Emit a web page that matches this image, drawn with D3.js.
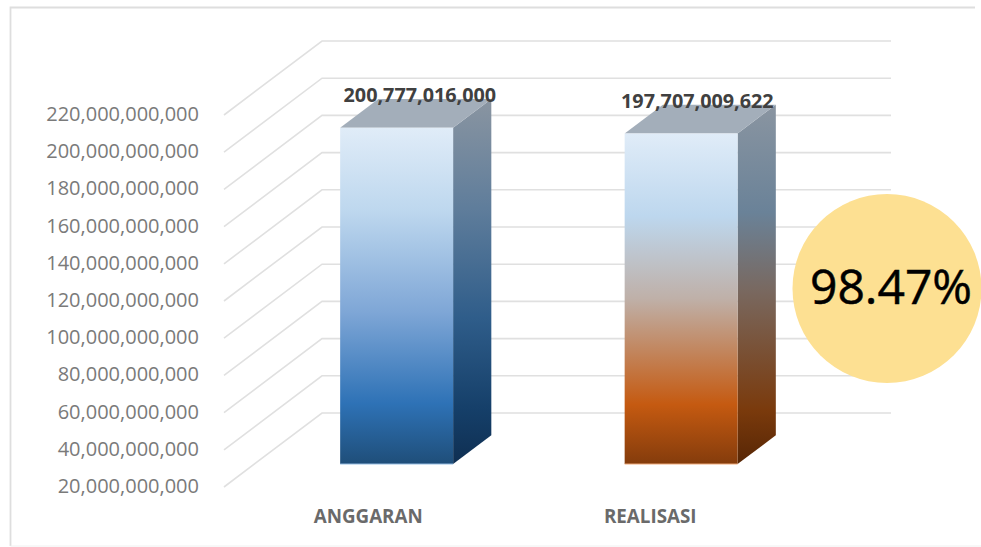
<!DOCTYPE html>
<html>
<head>
<meta charset="utf-8">
<style>
html,body{margin:0;padding:0;background:#fff}
svg{display:block}
text{font-family:"Open Sans",sans-serif}
</style>
<script src="https://cdn.jsdelivr.net/npm/d3@7"></script>
</head>
<body>
<svg id="chart" width="981" height="547"></svg>
<script>
// Budget against realisation, drawn as a 3D column chart
const categories = ["ANGGARAN", "REALISASI"];
const values = [200777016000, 197707009622];
const valueLabels = ["200,777,016,000", "197,707,009,622"];
const tickValues = [20e9, 40e9, 60e9, 80e9, 100e9, 120e9, 140e9, 160e9, 180e9, 200e9, 220e9];
const percentLabel = "98.47%";

const frontGradients = [
  [[0, "#e0ecf8"], [0.25, "#bdd7ee"], [0.55, "#7ea6d6"], [0.82, "#2e72b6"], [1, "#1f4e79"]],
  [[0, "#e0ecf8"], [0.25, "#bdd7ee"], [0.5, "#bfb0a8"], [0.82, "#c55a11"], [1, "#843c0c"]]
];
const sideGradients = [
  [[0, "#8a95a1"], [0.3, "#5f7d9b"], [0.6, "#2f5d8a"], [0.85, "#153f69"], [1, "#0f2f52"]],
  [[0, "#8a95a1"], [0.3, "#6a8298"], [0.52, "#79685f"], [0.85, "#7a3a0c"], [1, "#572605"]]
];
const edgeColors = ["#9dc3e6", "#f4b183"];
const valueLabelShift = [-15, -22];
const categoryLabelShift = [2, -0.5];

const svg = d3.select("#chart");
const defs = svg.append("defs");

// Oblique projection: depth 0 is the front of the floor, depth 1 the back wall
const depthX = 98, depthY = -74;
const barDepthFront = 0.31, barDepthBack = 0.70;
const y = d3.scaleLinear().domain([20e9, 220e9]).range([487, 115]);
const x = d3.scaleBand().domain(categories).range([224, 793]);
const barWidth = x.bandwidth() * 0.397;
const project = (px, value, depth) => [px + depthX * depth, y(value) + depthY * depth];
const wallRight = 891;

// Floor and wall gridlines
svg.append("g").selectAll("polyline").data(tickValues).join("polyline")
  .attr("fill", "none").attr("stroke", "#e0e0e0").attr("stroke-width", 1.6)
  .attr("points", d => {
    const a = project(x.range()[0], d, 0), b = project(x.range()[0], d, 1);
    return [a, b, [wallRight, b[1]]].map(p => p.join(",")).join(" ");
  });

// Value axis labels
const fmt = d3.format(",");
svg.append("g").selectAll("text").data(tickValues).join("text")
  .attr("x", 199).attr("y", d => y(d) + 6)
  .attr("text-anchor", "end").attr("font-size", 20).attr("fill", "#7a7a7a")
  .text(d => fmt(d));

function gradient(id, stops) {
  const g = defs.append("linearGradient").attr("id", id)
    .attr("x1", 0).attr("x2", 0).attr("y1", 0).attr("y2", 1);
  stops.forEach(s => g.append("stop").attr("offset", s[0]).attr("stop-color", s[1]));
}

const path = pts => "M" + pts.map(p => p.join(",")).join("L") + "Z";

// Columns
categories.forEach((c, i) => {
  gradient("front" + i, frontGradients[i]);
  gradient("side" + i, sideGradients[i]);
  const left = x(c) + (x.bandwidth() - barWidth) / 2;
  const right = left + barWidth;
  const v = values[i];
  const g = svg.append("g");
  g.append("path").attr("fill", `url(#side${i})`).attr("d", path([
    project(right, v, barDepthFront), project(right, v, barDepthBack),
    project(right, 20e9, barDepthBack), project(right, 20e9, barDepthFront)
  ]));
  g.append("path").attr("fill", "#a3aeba").attr("d", path([
    project(left, v, barDepthFront), project(left, v, barDepthBack),
    project(right, v, barDepthBack), project(right, v, barDepthFront)
  ]));
  g.append("path").attr("fill", `url(#front${i})`).attr("d", path([
    project(left, v, barDepthFront), project(right, v, barDepthFront),
    project(right, 20e9, barDepthFront), project(left, 20e9, barDepthFront)
  ]));
  // Thin light edge along the foot of the column
  const foot = [project(left, 20e9, barDepthFront), project(right, 20e9, barDepthFront)];
  g.append("line").attr("x1", foot[0][0]).attr("y1", foot[0][1])
    .attr("x2", foot[1][0]).attr("y2", foot[1][1])
    .attr("stroke", edgeColors[i]).attr("stroke-width", 1);
  const top = project((left + right) / 2, v, barDepthBack);
  svg.append("text")
    .attr("x", top[0] + valueLabelShift[i]).attr("y", top[1] + 3)
    .attr("text-anchor", "middle").attr("font-size", 19.8).attr("font-weight", 700)
    .attr("fill", "#404040").text(valueLabels[i]);
  svg.append("text")
    .attr("x", x(c) + x.bandwidth() / 2 + categoryLabelShift[i]).attr("y", 523)
    .attr("text-anchor", "middle").attr("font-size", 18.8).attr("font-weight", 700)
    .attr("fill", "#6a6a6a").text(c);
});

// Percentage badge
svg.append("circle").attr("cx", 887).attr("cy", 288.5).attr("r", 94.5).attr("fill", "#fde092");
svg.append("text").attr("x", 891).attr("y", 304)
  .attr("text-anchor", "middle").attr("font-size", 48).attr("fill", "#000000")
  .attr("stroke", "#000000").attr("stroke-width", 0.5).text(percentLabel);

// Surrounding frame, with a much fainter foot
svg.append("path").attr("fill", "none").attr("stroke", "#dedede").attr("stroke-width", 1.8)
  .attr("d", "M975,7.5H10.5V546");
svg.append("line").attr("x1", 10.5).attr("x2", 981).attr("y1", 546).attr("y2", 546)
  .attr("stroke", "#f0f0f0").attr("stroke-width", 1);
</script>
</body>
</html>
